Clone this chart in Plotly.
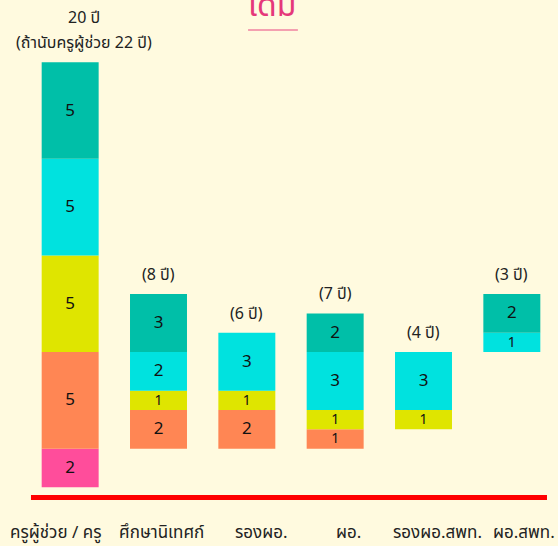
import plotly.graph_objects as go

categories = ["ครูผู้ช่วย / ครู", "ศึกษานิเทศก์", "รองผอ.", "ผอ.", "รองผอ.สพท.", "ผอ.สพท."]
start_year = [0, 2, 2, 2, 3, 7]
pink = [2, 0, 0, 0, 0, 0]
orange = [5, 2, 2, 1, 0, 0]
yellow = [5, 1, 1, 1, 1, 0]
cyan = [5, 2, 3, 3, 3, 1]
teal = [5, 3, 0, 2, 0, 2]
total_labels = ["(ถ้านับครูผู้ช่วย 22 ปี)", "(8 ปี)", "(6 ปี)", "(7 ปี)", "(4 ปี)", "(3 ปี)"]
first_bar_years = "20 ปี"
title_text = "เดิม"

series = [
    ("pink", pink, "#FF4D9B"),
    ("orange", orange, "#FF8654"),
    ("yellow", yellow, "#DFE500"),
    ("cyan", cyan, "#00E2DF"),
    ("teal", teal, "#00BFA8"),
]

BG = "#FFFADF"
FONT = "Noto Sans Thai, Noto Sans, DejaVu Sans, sans-serif"

fig = go.Figure()
running = list(start_year)
for name, vals, color in series:
    bases = list(running)
    fig.add_trace(go.Bar(
        x=categories, y=vals, base=bases, name=name,
        marker=dict(color=color, line=dict(width=0)),
        width=0.645,
        text=[str(v) if v else "" for v in vals],
        textposition="inside", insidetextanchor="middle",
        textangle=0, constraintext="none",
        textfont=dict(color="#111111", size=[17 if v >= 2 else 14 for v in vals], family=FONT),
        hoverinfo="skip",
    ))
    running = [r + v for r, v in zip(running, vals)]

tops = running

annotations = []
for i, (cat, lab, top) in enumerate(zip(categories, total_labels, tops)):
    if i == 0:
        annotations.append(dict(
            x=cat, y=top, xref="x", yref="y", text=lab, showarrow=False,
            yanchor="middle", xanchor="center", xshift=14, yshift=19,
            font=dict(size=16, color="#222222", family=FONT),
        ))
        annotations.append(dict(
            x=cat, y=top, xref="x", yref="y", text=first_bar_years, showarrow=False,
            yanchor="middle", xanchor="center", xshift=14, yshift=44,
            font=dict(size=16, color="#222222", family=FONT),
        ))
    else:
        annotations.append(dict(
            x=cat, y=top, xref="x", yref="y", text=lab, showarrow=False,
            yanchor="bottom", xanchor="center", yshift=5,
            font=dict(size=16, color="#222222", family=FONT),
        ))

label_shift = [-15, 3, 15, 13, 14, 12]
for cat, sh in zip(categories, label_shift):
    annotations.append(dict(
        x=cat, y=-0.033, xref="x", yref="paper", text=cat, showarrow=False,
        yanchor="middle", xanchor="center", xshift=sh,
        font=dict(size=17, color="#222222", family=FONT),
    ))

annotations.append(dict(
    x=0.464, y=1.0, xref="paper", yref="paper", text=title_text, showarrow=False,
    yanchor="middle", xanchor="center", yshift=-6,
    font=dict(size=32, color="#E5387A", family=FONT),
))

fig.update_layout(
    width=558, height=546,
    margin=dict(l=26, r=2, t=0, b=30),
    paper_bgcolor=BG, plot_bgcolor=BG,
    barmode="overlay", showlegend=False,
    xaxis=dict(showticklabels=False, showgrid=False, zeroline=False, showline=False,
               range=[-0.5, 5.5]),
    yaxis=dict(visible=False, range=[-1.486, 25.22]),
    annotations=annotations,
    shapes=[
        dict(type="line", xref="paper", yref="y", x0=0.0094, x1=0.983, y0=-0.53, y1=-0.53,
             line=dict(color="#FF0000", width=5)),
        dict(type="line", xref="paper", yref="paper", x0=0.419, x1=0.513, y0=0.942, y1=0.942,
             line=dict(color="#F4A0B0", width=2)),
    ],
)

fig.write_html("out.html", config={"displayModeBar": False},
               post_script="document.body.style.margin='0px';")
